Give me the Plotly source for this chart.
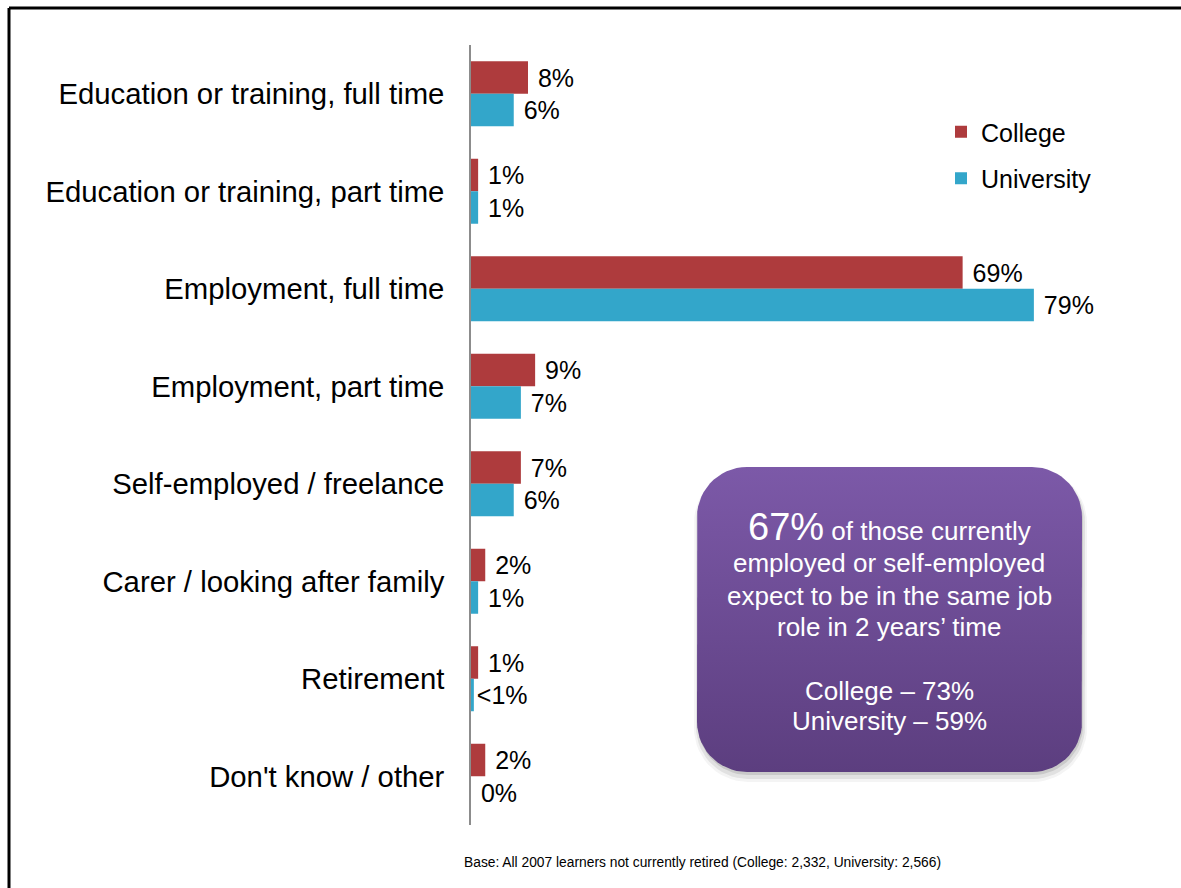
import numpy as np
import plotly.graph_objects as go

# ---- data -------------------------------------------------------------
categories = [
    "Education or training, full time",
    "Education or training, part time",
    "Employment, full time",
    "Employment, part time",
    "Self-employed / freelance",
    "Carer / looking after family",
    "Retirement",
    "Don't know / other",
]
college = [8, 1, 69, 9, 7, 2, 1, 2]
university = [6, 1, 79, 7, 6, 1, 0.4, 0]
college_labels = ["8%", "1%", "69%", "9%", "7%", "2%", "1%", "2%"]
university_labels = ["6%", "1%", "79%", "7%", "6%", "1%", "<1%", "0%"]

callout_lines = [
    "of those currently",
    "employed or self-employed",
    "expect to be in the same job",
    "role in 2 years\u2019 time",
]
callout_headline = "67%"
callout_split = ["College \u2013 73%", "University \u2013 59%"]
footnote = "Base: All 2007 learners not currently retired (College: 2,332, University: 2,566)"

# ---- geometry (figure pixels) ------------------------------------------
W, H = 1181, 888
PLOT_L, PLOT_R = 471, 1041
PLOT_T, PLOT_B = 45, 825

FONT = "Liberation Sans, Arial, sans-serif"
RED = "#AE3B3D"
BLUE = "#33A6CA"


def bar_text(labels):
    out = []
    for s in labels:
        s = s.replace("<", "&lt;")
        out.append(s if s.startswith("&lt;") else "\u00a0" + s)
    return out


fig = go.Figure()

fig.add_trace(go.Bar(
    y=categories, x=college, orientation="h", name="College",
    marker=dict(color=RED, line=dict(width=0)),
    text=bar_text(college_labels), textposition="outside",
    textfont=dict(family=FONT, size=25, color="#000000"),
    constraintext="none", cliponaxis=False, legendgroup="c",
))
fig.add_trace(go.Bar(
    y=categories, x=university, orientation="h", name="University",
    marker=dict(color=BLUE, line=dict(width=0)),
    text=bar_text(university_labels), textposition="outside",
    textfont=dict(family=FONT, size=25, color="#000000"),
    constraintext="none", cliponaxis=False, legendgroup="u",
))


def rounded_rect(x0, y0, x1, y1, r, n=16):
    xs, ys = [], []
    corners = [
        (x1 - r, y0 + r, -np.pi / 2, 0),
        (x1 - r, y1 - r, 0, np.pi / 2),
        (x0 + r, y1 - r, np.pi / 2, np.pi),
        (x0 + r, y0 + r, np.pi, 1.5 * np.pi),
    ]
    for cx, cy, a0, a1 in corners:
        t = np.linspace(a0, a1, n)
        xs.extend(cx + r * np.cos(t))
        ys.extend(cy + r * np.sin(t))
    xs.append(xs[0])
    ys.append(ys[0])
    return xs, ys


# callout box: soft shadow then gradient fill
BX0, BY0, BX1, BY1, BR = 697, 467, 1082, 772, 50
for grow, dx, dy, alpha in [(4, 1, 6, 0.06), (2, 1, 5, 0.10), (0, 1, 3, 0.14)]:
    sx, sy = rounded_rect(BX0 - grow + dx, BY0 - grow + dy, BX1 + grow + dx, BY1 + grow + dy, BR + grow)
    fig.add_trace(go.Scatter(
        x=sx, y=sy, xaxis="x2", yaxis="y2", mode="lines", fill="toself",
        line=dict(width=0, color="rgba(0,0,0,0)"),
        fillcolor=f"rgba(60,60,60,{alpha})", hoverinfo="skip", showlegend=False,
    ))
bx, by = rounded_rect(BX0, BY0, BX1, BY1, BR)
fig.add_trace(go.Scatter(
    x=bx, y=by, xaxis="x2", yaxis="y2", mode="lines", fill="toself",
    line=dict(width=0, color="rgba(0,0,0,0)"),
    fillgradient=dict(type="vertical", start=BY0, stop=BY1,
                      colorscale=[[0, "#7C59A8"], [1, "#5C3E7F"]]),
    hoverinfo="skip", showlegend=False,
))

annotations = []
CX = 889
BOX_FONT = dict(family=FONT, size=26, color="white")
annotations.append(dict(
    x=CX, y=527, xref="x2", yref="y2", xanchor="center", yanchor="middle",
    text=f"<span style='font-size:38px'>{callout_headline}</span> {callout_lines[0]}",
    showarrow=False, font=BOX_FONT,
))
for txt, yc in zip(callout_lines[1:], [563, 596, 627]):
    annotations.append(dict(
        x=CX, y=yc, xref="x2", yref="y2", xanchor="center", yanchor="middle",
        text=txt, showarrow=False, font=BOX_FONT,
    ))
for txt, yc in zip(callout_split, [691, 721]):
    annotations.append(dict(
        x=CX, y=yc, xref="x2", yref="y2", xanchor="center", yanchor="middle",
        text=txt, showarrow=False, font=BOX_FONT,
    ))
annotations.append(dict(
    x=462 / W, y=1 - 862 / H, xref="paper", yref="paper",
    xanchor="left", yanchor="middle", text=footnote, showarrow=False,
    font=dict(family="Liberation Sans Narrow, Arial Narrow, " + FONT, size=13.8, color="#000000"),
))

# frame lines along the top and left edges
shapes = [
    dict(type="line", xref="paper", yref="paper", x0=9 / W, x1=1.0, y0=1 - 8 / H, y1=1 - 8 / H,
         line=dict(color="#000000", width=3)),
    dict(type="line", xref="paper", yref="paper", x0=9 / W, x1=9 / W, y0=0, y1=1 - 8 / H,
         line=dict(color="#000000", width=3)),
]

fig.update_layout(
    width=W, height=H,
    margin=dict(l=0, r=0, t=0, b=0),
    paper_bgcolor="white", plot_bgcolor="rgba(0,0,0,0)",
    barmode="group", bargap=1 / 3, bargroupgap=0,
    font=dict(family=FONT, color="#000000"),
    xaxis=dict(domain=[PLOT_L / W, PLOT_R / W], range=[0, 80], visible=False, fixedrange=True),
    yaxis=dict(
        domain=[(H - PLOT_B) / H, (H - PLOT_T) / H], autorange="reversed",
        showline=True, linecolor="#8C8C8C", linewidth=1.5, ticks="",
        showgrid=False, zeroline=False, ticklabelstandoff=19,
        tickfont=dict(family=FONT, size=29.3, color="#000000"),
    ),
    xaxis2=dict(domain=[0, 1], range=[0, W], visible=False, anchor="y2", fixedrange=True),
    yaxis2=dict(domain=[0, 1], range=[H, 0], visible=False, anchor="x2", fixedrange=True),
    legend=dict(
        x=941 / W, y=1 - 109 / H, xanchor="left", yanchor="top",
        traceorder="grouped", tracegroupgap=11, bgcolor="rgba(0,0,0,0)",
        font=dict(family=FONT, size=25, color="#000000"),
    ),
    annotations=annotations,
    shapes=shapes,
    showlegend=True,
)

fig.write_html("out.html")
